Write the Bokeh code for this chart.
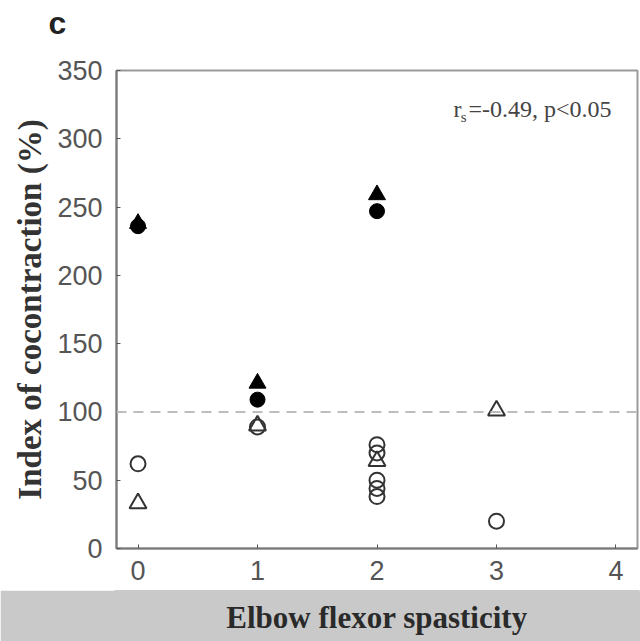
from bokeh.plotting import figure
from bokeh.layouts import column
from bokeh.models import Range1d, Span, Label, FixedTicker
from bokeh.embed import file_html
from bokeh.resources import INLINE

# data
fc_x = [0, 1, 2]
fc_y = [236, 109, 247]
ft_x = [0, 1, 2]
ft_y = [238, 121, 259]
oc_x = [0, 1, 2, 2, 2, 2, 2, 3]
oc_y = [62, 89, 76, 70, 50, 44, 38, 20]
ot_x = [0, 1, 2, 3]
ot_y = [33, 90, 64, 101]
x_ticks = [0, 1, 2, 3, 4]
y_ticks = [0, 50, 100, 150, 200, 250, 300, 350]
ref_line = 100

# panel letter strip
t = figure(width=640, height=40, output_backend="svg", toolbar_location=None,
           x_range=Range1d(0, 640), y_range=Range1d(0, 40), min_border=0,
           frame_align=False)
t.axis.visible = False
t.grid.visible = False
t.outline_line_color = None
t.background_fill_color = "white"
t.border_fill_color = "white"
t.add_layout(Label(x=48, y=18, text="c", text_baseline="middle",
                   text_font="Liberation Sans", text_font_style="bold",
                   text_font_size="32px", text_color="#222222"))

xr = Range1d(-0.18, 4.18)
p = figure(width=640, height=550, output_backend="svg", toolbar_location=None,
           x_range=xr, y_range=Range1d(0, 350),
           min_border_left=116, min_border_right=3, min_border_top=30, min_border_bottom=42)
p.grid.visible = False
p.outline_line_color = "#9a9a9a"
p.outline_line_width = 2
p.background_fill_color = "white"
p.border_fill_color = "white"

for ax, ticks in ((p.xaxis, x_ticks), (p.yaxis, y_ticks)):
    ax.ticker = FixedTicker(ticks=ticks)
    ax.axis_line_color = "#7a7a7a"
    ax.axis_line_width = 2
    ax.major_tick_in = 4
    ax.major_tick_out = 0
    ax.major_tick_line_color = "#555555"
    ax.minor_tick_line_color = None
    ax.major_label_text_font = "Liberation Sans"
    ax.major_label_text_font_size = "27px"
    ax.major_label_text_color = "#555555"
p.xaxis.major_label_standoff = 12
p.yaxis.major_label_standoff = 14
p.yaxis.axis_label = "Index of cocontraction (%)"
p.yaxis.axis_label_text_font = "Liberation Serif"
p.yaxis.axis_label_text_font_style = "bold"
p.yaxis.axis_label_text_font_size = "33px"
p.yaxis.axis_label_text_color = "#333333"
p.yaxis.axis_label_standoff = 6

p.add_layout(Span(location=ref_line, dimension="width", line_color="#bdbdbd",
                  line_width=2, line_dash="10 7"))

p.scatter(ft_x, ft_y, marker="triangle", size=17, color="black")
p.scatter(fc_x, fc_y, marker="circle", size=15, color="black")
p.scatter(oc_x, oc_y, marker="circle", size=15, fill_color=None,
          line_color="#333333", line_width=2)
p.scatter(ot_x, ot_y, marker="triangle", size=17, fill_color=None,
          line_color="#333333", line_width=2)

p.add_layout(Label(x=2.64, y=322, text="r", text_font="Liberation Serif",
                   text_baseline="alphabetic",
                   text_font_size="24px", text_color="#444444"))
p.add_layout(Label(x=2.70, y=316, text="s", text_font="Liberation Serif",
                   text_baseline="alphabetic",
                   text_font_size="15px", text_color="#444444"))
p.add_layout(Label(x=2.765, y=322, text="=-0.49, p<0.05", text_font="Liberation Serif",
                   text_baseline="alphabetic",
                   text_font_size="24px", text_color="#444444"))

b = figure(width=640, height=51, output_backend="svg", toolbar_location=None,
           x_range=xr, y_range=Range1d(0, 51), min_border=0)
b.axis.visible = False
b.grid.visible = False
b.outline_line_color = "#c9c9c9"
b.outline_line_width = 4
b.background_fill_color = "#c9c9c9"
b.border_fill_color = "#c9c9c9"
b.add_layout(Label(x=2, y=24, text="Elbow flexor spasticity", text_align="center",
                   text_baseline="middle",
                   text_font="Liberation Serif", text_font_style="bold",
                   text_font_size="31px", text_color="#2a2a2a"))

layout = column(t, p, b, spacing=0)
open("out.html", "w").write(file_html(layout, INLINE))
